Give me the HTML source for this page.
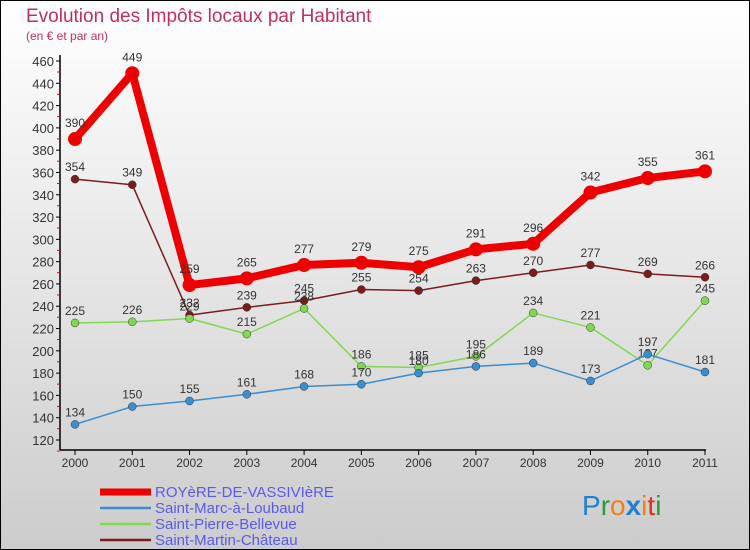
<!DOCTYPE html>
<html><head><meta charset="utf-8"><style>
body{margin:0;}
#wrap{width:750px;height:550px;position:relative;overflow:hidden;font-family:"Liberation Sans",sans-serif;}
</style></head><body>
<div id="wrap">
<svg id="chart" width="750" height="550" xmlns="http://www.w3.org/2000/svg">
<defs><linearGradient id="bg" x1="0" y1="0" x2="0" y2="1"><stop offset="0" stop-color="#ffffff"/><stop offset="1" stop-color="#cccccc"/></linearGradient></defs>
<rect x="0.5" y="0.5" width="749" height="549" fill="url(#bg)" stroke="#000"/>
<text x="26" y="22" font-size="19" fill="#c0305f">Evolution des Impôts locaux par Habitant</text>
<text x="26" y="40" font-size="12" fill="#c0305f">(en € et par an)</text>
<g id="axes"></g>
<g id="series"></g>
<g id="legend"></g>
<g font-size="28" font-family="'Liberation Sans',sans-serif">
<text x="582" y="515"><tspan fill="#1f7fd0">P</tspan><tspan fill="#2a9a3a">r</tspan><tspan fill="#f08010">o</tspan><tspan fill="#1f7fd0" font-weight="bold">x</tspan><tspan fill="#f08010">i</tspan><tspan fill="#e03020">t</tspan><tspan fill="#2a9a3a">i</tspan></text>
</g>
</svg>
</div>
<script>
const years=["2000","2001","2002","2003","2004","2005","2006","2007","2008","2009","2010","2011"];
const royere=[390,449,259,265,277,279,275,291,296,342,355,361];
const marc=[134,150,155,161,168,170,180,186,189,173,197,181];
const pierre=[225,226,229,215,238,186,185,195,234,221,187,245];
const martin=[354,349,232,239,245,255,254,263,270,277,269,266];
const yTicks=[120,140,160,180,200,220,240,260,280,300,320,340,360,380,400,420,440,460];
const NS="http://www.w3.org/2000/svg";
const xs=i=>75+i*(630/11);
const ys=v=>440-(v-120)*(379/340);
function mk(tag,attrs,parent){const e=document.createElementNS(NS,tag);for(const k in attrs)e.setAttribute(k,attrs[k]);parent.appendChild(e);return e;}
const axes=document.getElementById('axes');
let l=mk('line',{x1:60,y1:55,x2:60,y2:450,stroke:'#000','stroke-width':1.5},axes);


l=mk('line',{x1:60,y1:450,x2:706,y2:450,stroke:'#000','stroke-width':1.5},axes);


yTicks.forEach(v=>{
 const y=ys(v);
 mk('line',{x1:56,y1:y,x2:60,y2:y,stroke:'#000'},axes);
 mk('line',{x1:57,y1:y+11,x2:60,y2:y+11,stroke:'#e00'},axes);
 const t=mk('text',{x:54,y:y+5,'font-size':13,'text-anchor':'end',fill:'#333'},axes);
 t.textContent=v;
 
 
});
years.forEach((yr,i)=>{
 const x=xs(i);
 mk('line',{x1:x,y1:450,x2:x,y2:455,stroke:'#000'},axes);
 const t=mk('text',{x:x,y:467,'font-size':12,'text-anchor':'middle',fill:'#333'},axes);
 t.textContent=yr;
 
 
});
const series=[
 {name:'Saint-Martin-Château',data:martin,color:'#7a1c1c',w:1.5,r:4,key:'martin'},
 {name:'Saint-Pierre-Bellevue',data:pierre,color:'#80d850',w:1.5,r:4,key:'pierre'},
 {name:'Saint-Marc-à-Loubaud',data:marc,color:'#3a8ed0',w:1.5,r:4,key:'marc'},
 {name:'ROYèRE-DE-VASSIVIèRE',data:royere,color:'#ee0000',w:8,r:7,key:'royere'}
];
const sg=document.getElementById('series');
series.forEach(s=>{
 const g=mk('g',{},sg);
 
 
 const pts=s.data.map((v,i)=>xs(i)+','+ys(v)).join(' ');
 const pl=mk('polyline',{points:pts,fill:'none',stroke:s.color,'stroke-width':s.w,'stroke-linejoin':'round'},g);
 
 
 s.data.forEach((v,i)=>{
  const c=mk('circle',{cx:xs(i),cy:ys(v),r:s.r,fill:s.color,stroke:s.key==='royere'?'none':'#333','stroke-width':0.5},g);
  
  
  const t=mk('text',{x:xs(i),y:ys(v)-(s.key==='royere'?12:8),'font-size':12,'text-anchor':'middle',fill:'#333'},g);
  t.textContent=v;
  
  
 });
});
const lg=document.getElementById('legend');
const leg=[series[3],series[2],series[1],series[0]];
leg.forEach((s,i)=>{
 const y=492+i*16;
 const g=mk('g',{},lg);
 
 
 mk('line',{x1:100,y1:y,x2:151,y2:y,stroke:s.color,'stroke-width':s.key==='royere'?7:2.5},g);
 const t=mk('text',{x:155,y:y+5,'font-size':15,fill:'#5a5aee'},g);
 t.textContent=s.name;
});
</script>
</body></html>
